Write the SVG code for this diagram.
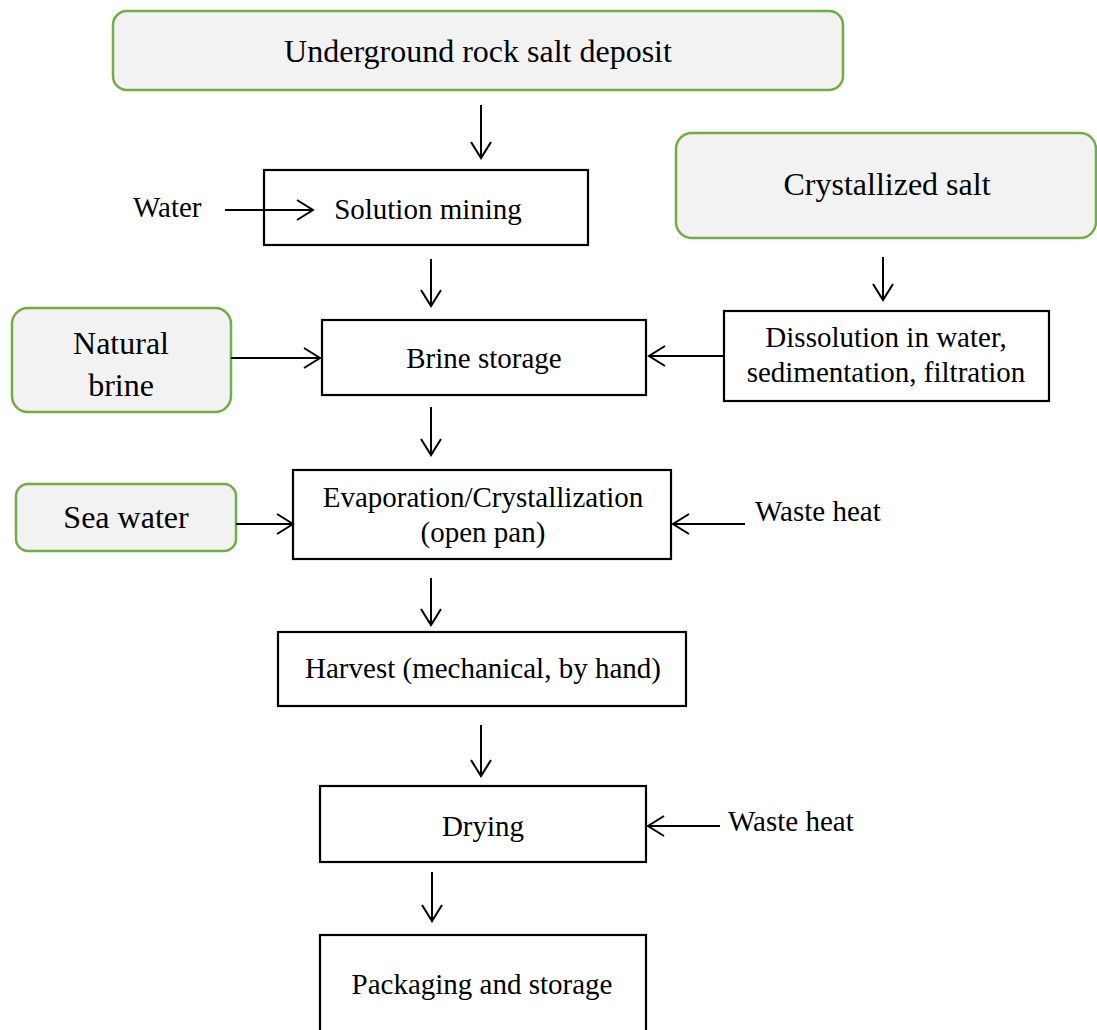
<svg xmlns="http://www.w3.org/2000/svg" width="1097" height="1030" viewBox="0 0 1097 1030">
  <style>
    .src { fill: #f2f2f2; stroke: #70ad47; stroke-width: 2.5; }
    .step { fill: #ffffff; stroke: #000000; stroke-width: 2.2; }
    text { font-family: "Liberation Serif", "Times New Roman", serif; fill: #000000; text-anchor: middle; }
    .big { font-size: 32px; }
    .mid { font-size: 29px; }
    .lbl { font-size: 29px; text-anchor: start; }
    .flow { fill: none; stroke: #000000; stroke-width: 2; marker-end: url(#open); }
  </style>
  <defs>
    <marker id="open" markerUnits="userSpaceOnUse" markerWidth="20" markerHeight="24" viewBox="0 0 20 24" refX="18" refY="12" orient="auto">
      <path d="M2,2 L18,12 L2,22" fill="none" stroke="#000000" stroke-width="2"/>
    </marker>
  </defs>
  <rect width="1097" height="1030" fill="#ffffff"/>

  <!-- raw material sources -->
  <g id="rock-salt-deposit">
    <rect class="src" x="113" y="11" width="730" height="79" rx="14"/>
    <text class="big" x="478" y="62">Underground rock salt deposit</text>
  </g>
  <g id="crystallized-salt">
    <rect class="src" x="676" y="133" width="420" height="105" rx="16"/>
    <text class="big" x="887" y="195">Crystallized salt</text>
  </g>
  <g id="natural-brine">
    <rect class="src" x="12" y="308" width="219" height="104" rx="16"/>
    <text class="big" x="121" y="354">Natural</text>
    <text class="big" x="121" y="396">brine</text>
  </g>
  <g id="sea-water">
    <rect class="src" x="16" y="484" width="220" height="67" rx="12"/>
    <text class="big" x="126" y="528">Sea water</text>
  </g>

  <!-- process steps -->
  <g id="solution-mining">
    <rect class="step" x="264" y="170" width="324" height="75"/>
    <text class="mid" x="428" y="219">Solution mining</text>
  </g>
  <g id="dissolution">
    <rect class="step" x="724" y="311" width="325" height="90"/>
    <text class="mid" x="886" y="347">Dissolution in water,</text>
    <text class="mid" x="886" y="382">sedimentation, filtration</text>
  </g>
  <g id="brine-storage">
    <rect class="step" x="322" y="320" width="324" height="75"/>
    <text class="mid" x="484" y="368">Brine storage</text>
  </g>
  <g id="evaporation">
    <rect class="step" x="293" y="470" width="378" height="89"/>
    <text class="mid" x="483" y="507">Evaporation/Crystallization</text>
    <text class="mid" x="483" y="542">(open pan)</text>
  </g>
  <g id="harvest">
    <rect class="step" x="278" y="632" width="408" height="74"/>
    <text class="mid" x="483" y="678">Harvest (mechanical, by hand)</text>
  </g>
  <g id="drying">
    <rect class="step" x="320" y="786" width="326" height="76"/>
    <text class="mid" x="483" y="836">Drying</text>
  </g>
  <g id="packaging">
    <rect class="step" x="320" y="935" width="326" height="110"/>
    <text class="mid" x="482" y="994">Packaging and storage</text>
  </g>

  <!-- free-standing inputs -->
  <g id="water-input">
    <text class="lbl" x="133" y="217">Water</text>
  </g>
  <g id="waste-heat-evaporation">
    <text class="lbl" x="755" y="521">Waste heat</text>
  </g>
  <g id="waste-heat-drying">
    <text class="lbl" x="728" y="831">Waste heat</text>
  </g>

  <!-- connectors -->
  <g id="connectors">
    <line class="flow" x1="481" y1="105" x2="481" y2="158"/>
    <line class="flow" x1="225" y1="210" x2="313" y2="210"/>
    <line class="flow" x1="431" y1="259" x2="431" y2="306"/>
    <line class="flow" x1="231" y1="358" x2="320" y2="358"/>
    <line class="flow" x1="883" y1="257" x2="883" y2="300"/>
    <line class="flow" x1="724" y1="356" x2="649" y2="356"/>
    <line class="flow" x1="431" y1="407" x2="431" y2="455"/>
    <line class="flow" x1="236" y1="524" x2="293" y2="524"/>
    <line class="flow" x1="745" y1="524" x2="673" y2="524"/>
    <line class="flow" x1="431" y1="578" x2="431" y2="625"/>
    <line class="flow" x1="481" y1="725" x2="481" y2="776"/>
    <line class="flow" x1="720" y1="826" x2="648" y2="826"/>
    <line class="flow" x1="432" y1="872" x2="432" y2="921"/>
  </g>
</svg>
